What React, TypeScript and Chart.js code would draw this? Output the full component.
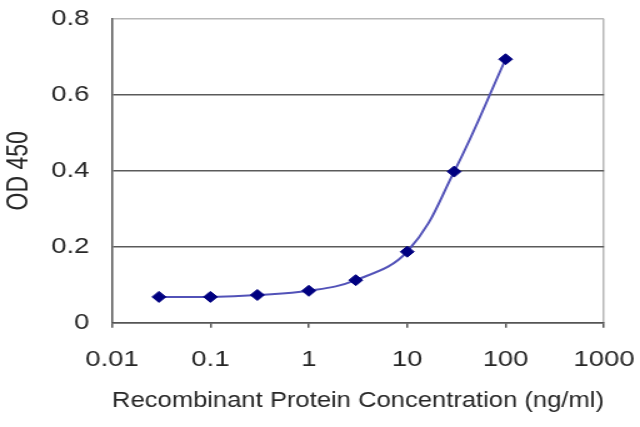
import { useEffect, useRef } from 'react';
import { Chart, registerables } from 'chart.js';

Chart.register(...registerables);

// concentration series (ng/ml) and OD 450 readings
const concentrations = [0.03, 0.1, 0.3, 1, 3, 10, 30, 100];
const odValues = [0.068, 0.068, 0.073, 0.084, 0.112, 0.187, 0.398, 0.694];

const xTicks = [0.01, 0.1, 1, 10, 100, 1000];
const xTickLabels = ['0.01', '0.1', '1', '10', '100', '1000'];
const yTicks = [0, 0.2, 0.4, 0.6, 0.8];
const yTickLabels = ['0', '0.2', '0.4', '0.6', '0.8'];

const FONT = '"Liberation Sans", Arial, sans-serif';
const TEXT = '#262626';

export default function App() {
  const canvasRef = useRef<HTMLCanvasElement>(null);
  const chartRef = useRef<Chart | null>(null);

  useEffect(() => {
    if (chartRef.current) {
      chartRef.current.destroy();
      chartRef.current = null;
    }
    const ctx = canvasRef.current?.getContext('2d');
    if (!ctx) return;

    chartRef.current = new Chart(ctx, {
      type: 'line',
      data: {
        datasets: [{
          data: concentrations.map((c, i) => ({ x: c, y: odValues[i] })),
          borderColor: '#5252b8',
          borderWidth: 2,
          tension: 0.4,
          pointStyle: 'rectRot',
          pointRadius: 5.5,
          pointBackgroundColor: '#000080',
          pointBorderColor: '#000080',
          pointBorderWidth: 1,
        }]
      },
      options: {
        responsive: false,
        animation: false,
        layout: { padding: { left: 0, top: 19, right: 28.8, bottom: 0 } },
        plugins: { legend: { display: false }, tooltip: { enabled: false } },
        scales: {
          x: {
            type: 'logarithmic',
            min: 0.01,
            max: 1000,
            afterBuildTicks: (scale: any) => {
              scale.ticks = xTicks.map((v) => ({ value: v }));
            },
            afterFit: (scale: any) => {
              scale.height = 104.3;
              scale.paddingLeft = 0;
              scale.paddingRight = 0;
            },
            ticks: {
              autoSkip: false,
              maxRotation: 0,
              padding: 19,
              color: TEXT,
              font: { family: FONT, size: 22 },
              callback: (_v: any, i: number) => xTickLabels[i],
            },
            grid: {
              drawOnChartArea: true,
              drawTicks: true,
              tickLength: 5,
              tickColor: '#555',
              lineWidth: 1.5,
              color: (c: any) => (c.tick && c.tick.value === 1000 ? '#b8b8b8' : 'rgba(0,0,0,0)'),
            },
            border: { display: true, color: '#555', width: 1.5 },
            title: {
              display: true,
              text: 'Recombinant Protein Concentration (ng/ml)',
              color: TEXT,
              font: { family: FONT, size: 22 },
              padding: { top: 0, bottom: 13 },
            },
          },
          y: {
            type: 'linear',
            min: 0,
            max: 0.8,
            afterBuildTicks: (scale: any) => {
              scale.ticks = yTicks.map((v) => ({ value: v }));
            },
            afterFit: (scale: any) => {
              scale.width = 89.6;
              scale.paddingTop = 0;
              scale.paddingBottom = 0;
            },
            ticks: {
              padding: 18,
              color: TEXT,
              font: { family: FONT, size: 22 },
              callback: (_v: any, i: number) => yTickLabels[i],
            },
            grid: {
              drawTicks: false,
              lineWidth: 1.5,
              color: (c: any) => (c.tick && Math.abs(c.tick.value - 0.8) < 1e-6 ? '#b8b8b8' : '#5a5a5a'),
            },
            border: { display: true, color: '#555', width: 1.5 },
            title: {
              display: true,
              text: 'OD 450',
              color: TEXT,
              font: { family: FONT, size: 23 },
              padding: { top: 2, bottom: 0 },
            },
          },
        },
      },
    });

    return () => {
      if (chartRef.current) {
        chartRef.current.destroy();
        chartRef.current = null;
      }
    };
  }, []);

  // the reference is stretched sideways, so the canvas is drawn narrower and scaled to 640px
  return (
    <div style={{ position: 'fixed', left: 0, top: 0, width: 640, height: 427, background: '#fff' }}>
      <canvas
        ref={canvasRef}
        width={512}
        height={427}
        style={{ width: '640px', height: '427px', display: 'block' }}
      />
    </div>
  );
}
